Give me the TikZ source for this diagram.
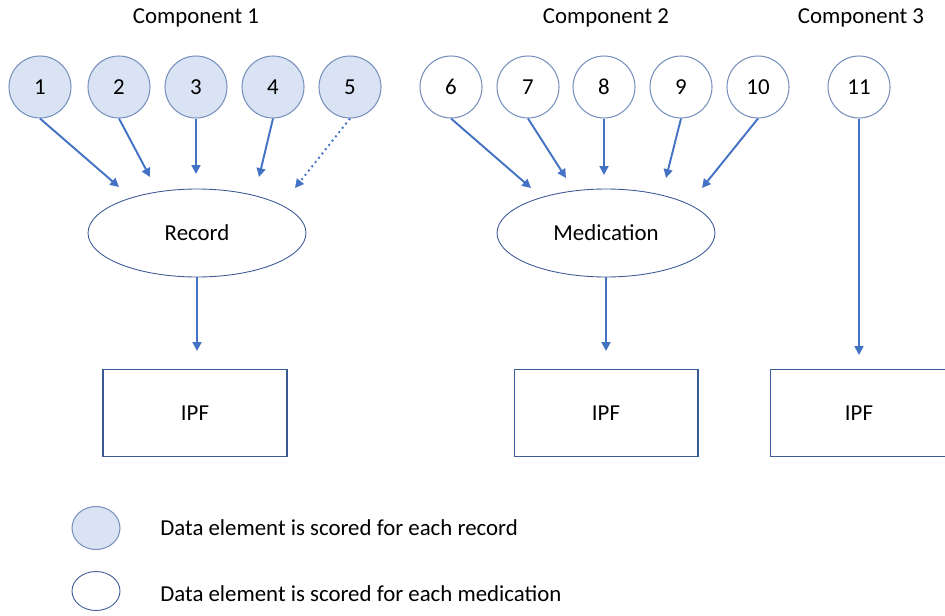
\documentclass[tikz,border=0pt]{standalone}
\usepackage{fontspec}
\setmainfont{Carlito}
\usetikzlibrary{arrows.meta,shapes.geometric}
\definecolor{linkblue}{RGB}{68,114,196}
\definecolor{rimblue}{RGB}{120,144,190}
\definecolor{shapeblue}{RGB}{60,90,150}
\definecolor{fillblue}{RGB}{218,227,243}
\tikzset{
  txt/.style={font=\fontsize{13}{15}\selectfont},
  elem/.style={circle, draw=rimblue, line width=0.6pt, minimum size=1.24cm, inner sep=0pt, txt},
  recelem/.style={elem, fill=fillblue},
  medelem/.style={elem, fill=white},
  group/.style={ellipse, draw=shapeblue, line width=0.5pt, minimum width=4.36cm, minimum height=1.76cm, inner sep=0pt, txt},
  ipfbox/.style={rectangle, draw=shapeblue, line width=0.6pt, minimum width=3.68cm, minimum height=1.74cm, inner sep=0pt, txt},
  label/.style={txt, inner sep=0pt},
  link/.style={draw=linkblue, line width=1.1pt, -{Triangle[length=5pt,width=5pt]}},
  dottedlink/.style={link, dotted},
}
\begin{document}
\begin{tikzpicture}[x=0.02cm,y=-0.02cm]
\useasboundingbox (0,0) rectangle (945,615);

% component headings
\node[label] (h1) at (196,18) {Component 1};
\node[label] (h2) at (606,18) {Component 2};
\node[label] (h3) at (861,18) {Component 3};

% data elements
\node[recelem] (e1) at (40,87) {1};
\node[recelem] (e2) at (119,87) {2};
\node[recelem] (e3) at (196,87) {3};
\node[recelem] (e4) at (273,87) {4};
\node[recelem] (e5) at (350,87) {5};
\node[medelem] (e6) at (451,87) {6};
\node[medelem] (e7) at (528,87) {7};
\node[medelem] (e8) at (604,87) {8};
\node[medelem] (e9) at (681,87) {9};
\node[medelem] (e10) at (758,87) {10};
\node[medelem] (e11) at (859,87) {11};

% aggregating units
\node[group] (rec) at (197,233) {Record};
\node[group] (med) at (606,233) {Medication};

% IPF boxes (the third one runs past the right edge)
\node[ipfbox] (ipf1) at (195,413) {IPF};
\node[ipfbox] (ipf2) at (606,413) {IPF};
\node[ipfbox, minimum width=4cm, anchor=west] (ipf3) at (770,413) {};
\node[label] (ipf3t) at (859,413) {IPF};

% arrow ends just short of the targets
\coordinate (r1) at (119,187);
\coordinate (r2) at (150,177);
\coordinate (r3) at (196,174);
\coordinate (r4) at (259,177);
\coordinate (r5) at (295,188);
\coordinate (m6) at (531,188);
\coordinate (m7) at (566,178);
\coordinate (m8) at (604,175);
\coordinate (m9) at (666,178);
\coordinate (m10) at (702,188);
\coordinate (i1) at (197,351);
\coordinate (i2) at (606,351);
\coordinate (i3) at (859,355);

\draw[link] (e1.south) -- (r1);
\draw[link] (e2.south) -- (r2);
\draw[link] (e3.south) -- (r3);
\draw[link] (e4.south) -- (r4);
\draw[dottedlink] (e5.south) -- (r5);
\draw[link] (e6.south) -- (m6);
\draw[link] (e7.south) -- (m7);
\draw[link] (e8.south) -- (m8);
\draw[link] (e9.south) -- (m9);
\draw[link] (e10.south) -- (m10);
\draw[link] (e11.south) -- (i3);
\draw[link] (rec.south) -- (i1);
\draw[link] (med.south) -- (i2);

% legend
\node[ellipse, draw=rimblue, fill=fillblue, line width=0.6pt, minimum width=0.96cm, minimum height=0.86cm, inner sep=0pt] (k1) at (96,528) {};
\node[ellipse, draw=shapeblue, fill=white, line width=0.5pt, minimum width=0.96cm, minimum height=0.78cm, inner sep=0pt] (k2) at (96,591) {};
\node[label, anchor=west] (t1) at (160,528) {Data element is scored for each record};
\node[label, anchor=west] (t2) at (160,594) {Data element is scored for each medication};
\end{tikzpicture}
\end{document}
